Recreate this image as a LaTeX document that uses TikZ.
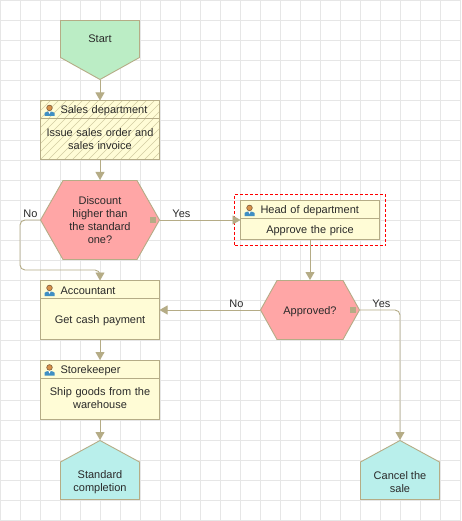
\documentclass[tikz,border=0pt]{standalone}
\usepackage{fontspec}
\setmainfont{Liberation Sans}
\usepackage{xcolor}
\usepackage{tikz}
\usetikzlibrary{arrows.meta,positioning,fit}
\definecolor{gridcol}{HTML}{E6E6E6}
\definecolor{linecol}{HTML}{B5AC86}
\definecolor{startfill}{HTML}{BBEDC5}
\definecolor{taskfill}{HTML}{FFFCD6}
\definecolor{hatchcol}{HTML}{D2CCA2}
\definecolor{decfill}{HTML}{FFA6A6}
\definecolor{endfill}{HTML}{B9EFEB}
\definecolor{textdark}{HTML}{2A2A2A}
\definecolor{iconblue}{HTML}{3F8FC4}
\definecolor{iconhead}{HTML}{D9924A}
\definecolor{iconline}{HTML}{7A5A3A}
\tikzset{
  txt/.style={font=\fontsize{11}{13}\selectfont, text=textdark, align=center},
  topstrut/.style={execute at begin node={\rule{0pt}{11pt}}},
  lanehead/.style={
    draw=linecol, fill=taskfill, txt, align=left, inner ysep=0pt, inner xsep=3pt,
    outer sep=0pt, text width=#1pt, minimum height=18pt,
    execute at begin node={\rule{0pt}{11pt}\hspace*{17pt}},
  },
  lanebody/.style={
    draw=linecol, fill=taskfill, txt, inner ysep=0pt, inner xsep=3pt,
    outer sep=0pt, text width=#1pt,
  },
  hatched/.style={
    path picture={
      \foreach \d in {-64,-56,...,120}
        \draw[hatchcol, line width=.6pt] ([xshift=\d pt]path picture bounding box.south west) -- ++(64,64);
    },
  },
  decnode/.style={
    txt, topstrut, inner sep=0pt, outer sep=0pt,
    path picture={
      \filldraw[draw=linecol, fill=decfill]
        ([xshift=#1pt,yshift=-.5pt]path picture bounding box.north west)
        -- ([xshift=-#1pt,yshift=-.5pt]path picture bounding box.north east)
        -- ([xshift=-.5pt]path picture bounding box.east)
        -- ([xshift=-#1pt,yshift=.5pt]path picture bounding box.south east)
        -- ([xshift=#1pt,yshift=.5pt]path picture bounding box.south west)
        -- ([xshift=.5pt]path picture bounding box.west) -- cycle;
    },
  },
  startnode/.style={
    txt, inner sep=0pt, outer sep=0pt, minimum width=80pt, minimum height=60pt,
    path picture={
      \filldraw[draw=linecol, fill=startfill]
        ([xshift=.5pt,yshift=-.5pt]path picture bounding box.north west)
        -- ([xshift=-.5pt,yshift=-.5pt]path picture bounding box.north east)
        -- ([xshift=-.5pt,yshift=22.5pt]path picture bounding box.south east)
        -- ([yshift=.5pt]path picture bounding box.south)
        -- ([xshift=.5pt,yshift=22.5pt]path picture bounding box.south west) -- cycle;
    },
  },
  endnode/.style={
    txt, inner sep=0pt, outer sep=0pt, minimum width=80pt, minimum height=60pt,
    path picture={
      \filldraw[draw=linecol, fill=endfill]
        ([xshift=.5pt,yshift=.5pt]path picture bounding box.south west)
        -- ([xshift=-.5pt,yshift=.5pt]path picture bounding box.south east)
        -- ([xshift=-.5pt,yshift=-22pt]path picture bounding box.north east)
        -- ([yshift=-.5pt]path picture bounding box.north)
        -- ([xshift=.5pt,yshift=-22pt]path picture bounding box.north west) -- cycle;
    },
  },
  portnode/.style={fill=linecol, minimum size=5.5pt, inner sep=0pt, outer sep=0pt},
  selbox/.style={draw=red, line width=1pt, dash pattern=on 3pt off 2pt, inner sep=6pt},
  arrow/.style={-{Triangle[length=8pt,width=9pt]}, color=linecol, line width=.9pt},
  lbl/.style={txt, inner sep=0pt},
  pics/person/.style={code={
    \fill[iconblue] (-5,-6.5) -- (-5,-3.5) .. controls (-4,-1.5) and (4,-1.5) .. (5,-3.5) -- (5,-6.5) -- cycle;
    \fill[white] (-1.2,-1.8) -- (1.2,-1.8) -- (0,-4.5) -- cycle;
    \filldraw[draw=iconline, line width=.6pt, fill=iconhead] (0,1.6) circle (2.8);
  }},
}
\begin{document}
\begin{tikzpicture}[x=1pt,y=1pt,line width=.9pt]

  \useasboundingbox (0,0) rectangle (461,-521);
  \fill[white] (0,0) rectangle (461,-521);
  \draw[gridcol, line width=1pt, xshift=.5pt, yshift=-.5pt, step=20] (0,-520) grid (460,0);

  \node[startnode] (start) at (100,-50) {Start\\[10pt]};

  \node[lanehead=113, hatched, below=20.5pt of start] (salesh) {Sales department};
  \node[lanebody=113, hatched, minimum height=41pt, below=0pt of salesh] (salesb)
    {Issue sales order and\\sales invoice};

  \node[decnode=23, minimum width=120pt, minimum height=80pt, below=20.5pt of salesb] (dec1)
    {Discount\\higher than\\the standard\\one?};
  \node[portnode] (port1) at ([xshift=-7pt]dec1.east) {};

  \node[lanehead=113, below=20.5pt of dec1] (accth) {Accountant};
  \node[lanebody=113, topstrut, minimum height=41pt, below=0pt of accth] (acctb) {Get cash payment};

  \node[lanehead=113, below=20.5pt of acctb] (storeh) {Storekeeper};
  \node[lanebody=113, minimum height=41pt, below=0pt of storeh] (storeb)
    {Ship goods from the\\warehouse};

  \node[endnode, below=21pt of storeb] (done) {\\[20pt]Standard\\completion};

  \node[lanehead=133, anchor=north west] (headh) at (240.5,-200.5) {Head of department};
  \node[lanebody=133, topstrut, minimum height=21pt, below=0pt of headh] (headb) {Approve the price};
  \node[selbox, fit=(headh)(headb)] (sel) {};

  \node[decnode=17, minimum width=100pt, minimum height=60pt, below=40.5pt of headb] (dec2) {Approved?};
  \node[portnode] (port2) at ([xshift=-7pt]dec2.east) {};

  \node[endnode] (cancel) at (400,-470) {\\[20pt]Cancel the\\sale};

  \pic at ([xshift=9pt]salesh.west) {person};
  \pic at ([xshift=9pt]accth.west) {person};
  \pic at ([xshift=9pt]storeh.west) {person};
  \pic at ([xshift=9pt]headh.west) {person};

  \draw[arrow] (start) -- (salesh);
  \draw[arrow] (salesb) -- (dec1);
  \draw[arrow] (dec1.east) -- (dec1.east -| headb.west);
  \draw[arrow, rounded corners=5pt] (dec1.west) -- ++(-20,0) -- ++(0,-50) -- ++(80,0) -- (accth.north);
  \draw[arrow] (acctb) -- (storeh);
  \draw[arrow] (storeb) -- (done);
  \draw[arrow] (headb) -- (dec2);
  \draw[arrow] (dec2.west) -- (dec2.west -| acctb.east);
  \draw[arrow, rounded corners=5pt] (dec2.east) -| (cancel.north);

  \node[lbl, above left=2pt and 2pt of dec1.west] (no1) {No};
  \node[lbl, above right=2pt and 12pt of dec1.east] (yes1) {Yes};
  \node[lbl, above left=2pt and 16pt of dec2.west] (no2) {No};
  \node[lbl, above right=2pt and 12pt of dec2.east] (yes2) {Yes};

\end{tikzpicture}
\end{document}
